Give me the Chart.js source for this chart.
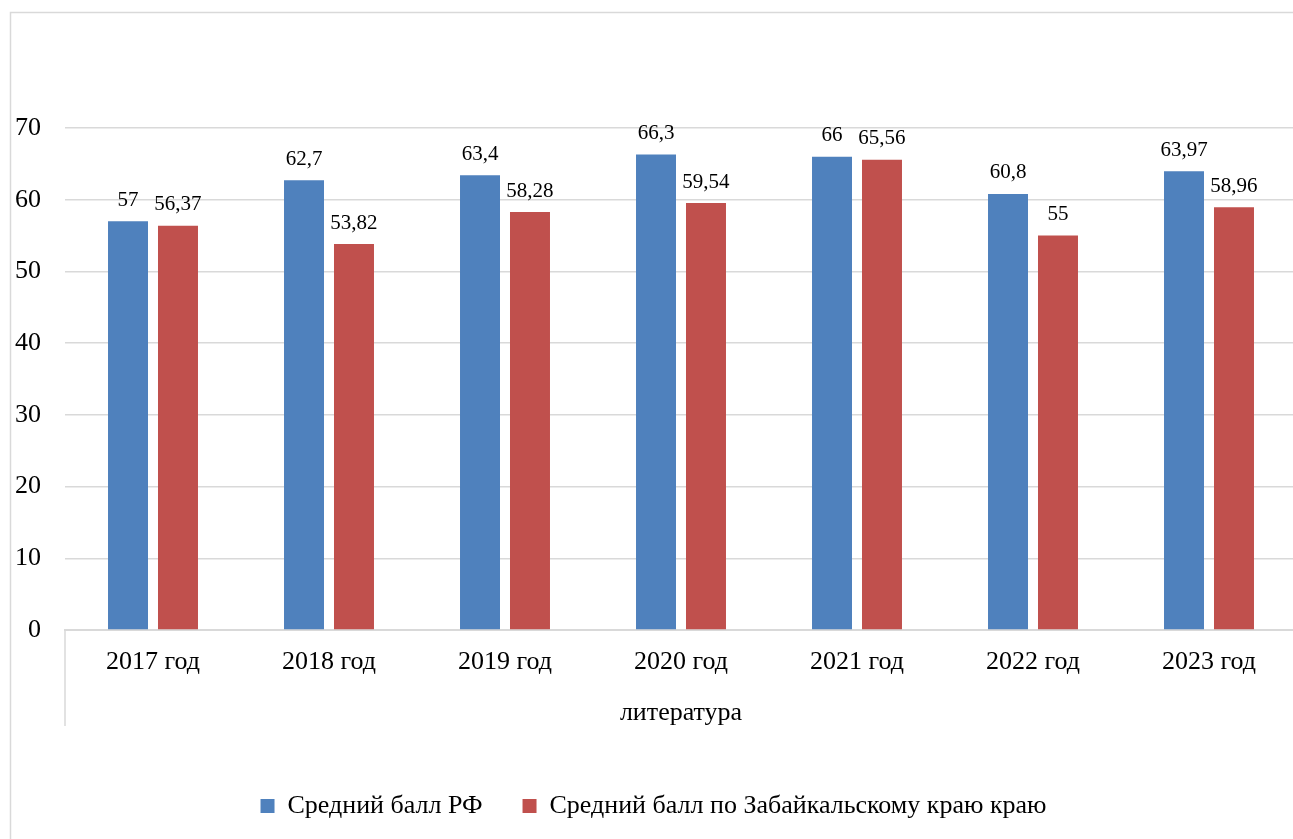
<!DOCTYPE html>
<html>
<head>
<meta charset="utf-8">
<title>Средний балл ЕГЭ по литературе</title>
<script src="https://cdn.jsdelivr.net/npm/chart.js@4.4.1/dist/chart.umd.min.js"></script>
<style>
  html, body { margin: 0; padding: 0; background: #fff; overflow: hidden; }
  canvas { display: block; }
</style>
</head>
<body>
<canvas id="chart" width="1300" height="839"></canvas>
<script>
// data
const years = ['2017 год', '2018 год', '2019 год', '2020 год', '2021 год', '2022 год', '2023 год'];
const groupLabel = 'литература';
const rfValues = [57, 62.7, 63.4, 66.3, 66, 60.8, 63.97];
const zabValues = [56.37, 53.82, 58.28, 59.54, 65.56, 55, 58.96];
const seriesNames = ['Средний балл РФ', 'Средний балл по Забайкальскому краю краю'];
const yTicks = [0, 10, 20, 30, 40, 50, 60, 70];

const FONT = '"Liberation Serif", "Times New Roman", serif';
const GRID = '#d9d9d9';
const bigFont = { family: FONT, size: 26 };

Chart.defaults.font.family = FONT;
Chart.defaults.color = '#000';

// numbers with a comma like in the original
const fmt = (v) => String(v).replace('.', ',');

// chart frame, value labels and the left bracket of the outer category
const decorPlugin = {
  id: 'decor',
  beforeDraw(chart) {
    const ctx = chart.ctx;
    ctx.save();
    ctx.strokeStyle = GRID;
    ctx.lineWidth = 1.5;
    ctx.strokeRect(10.5, 12.5, chart.width + 20, chart.height + 20);
    ctx.restore();
  },
  afterDatasetsDraw(chart) {
    const ctx = chart.ctx;
    ctx.save();
    ctx.font = '21px ' + FONT;
    ctx.fillStyle = '#000';
    ctx.textAlign = 'center';
    ctx.textBaseline = 'middle';
    chart.data.datasets.forEach((ds, i) => {
      chart.getDatasetMeta(i).data.forEach((bar, j) => {
        ctx.fillText(fmt(ds.data[j]), bar.x, bar.y - 21);
      });
    });
    ctx.restore();
  },
  afterDraw(chart) {
    const ctx = chart.ctx;
    const area = chart.chartArea;
    ctx.save();
    ctx.strokeStyle = GRID;
    ctx.lineWidth = 1.5;
    ctx.beginPath();
    ctx.moveTo(area.left, area.bottom);
    ctx.lineTo(area.left, area.bottom + 96);
    ctx.stroke();
    ctx.restore();
  }
};

new Chart(document.getElementById('chart'), {
  type: 'bar',
  data: {
    labels: years,
    datasets: [
      { label: seriesNames[0], data: rfValues, backgroundColor: '#4f81bd' },
      { label: seriesNames[1], data: zabValues, backgroundColor: '#c0504d' }
    ]
  },
  options: {
    responsive: false,
    animation: false,
    devicePixelRatio: 1,
    font: { family: FONT },
    layout: { padding: { top: 128, left: 10, right: 3, bottom: 10 } },
    datasets: {
      bar: { barPercentage: 0.8, categoryPercentage: 0.568 }
    },
    plugins: {
      tooltip: { enabled: false },
      legend: {
        position: 'bottom',
        labels: {
          font: bigFont,
          color: '#000',
          usePointStyle: true,
          pointStyle: 'rect',
          boxWidth: 14,
          boxHeight: 14,
          padding: 40
        }
      }
    },
    scales: {
      x: {
        grid: { display: false, drawTicks: false },
        border: { display: true, color: GRID, width: 2 },
        ticks: { font: bigFont, color: '#000', padding: 17, maxRotation: 0 },
        title: { display: true, text: groupLabel, font: bigFont, color: '#000', padding: { top: 0, bottom: 24 } },
        afterFit(scale) { scale.height = 123; }
      },
      y: {
        min: 0,
        max: 70,
        afterBuildTicks(scale) { scale.ticks = yTicks.map(v => ({ value: v })); },
        grid: { color: GRID, lineWidth: 1.5, drawTicks: false },
        border: { display: false },
        ticks: { font: bigFont, color: '#000', padding: 24 },
        afterFit(scale) { scale.width = 55; }
      }
    }
  },
  plugins: [decorPlugin]
});
</script>
</body>
</html>
